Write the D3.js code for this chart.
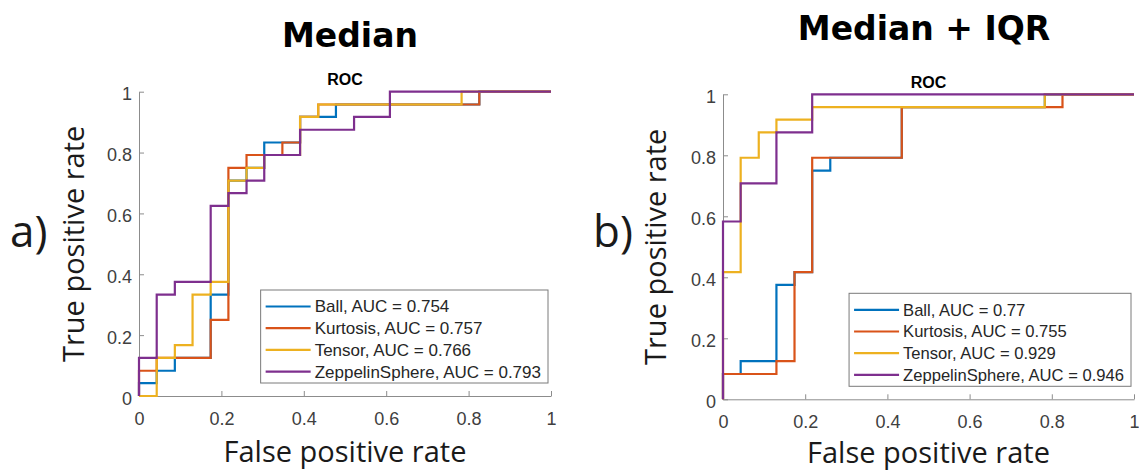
<!DOCTYPE html>
<html>
<head>
<meta charset="utf-8">
<script src="https://cdn.jsdelivr.net/npm/d3@7"></script>
<style>
  body { margin: 0; background: #fff; }
  svg { display: block; }
</style>
</head>
<body>
<svg id="chart" width="1139" height="472"></svg>
<script>
// series names and colours (MATLAB default order)
const seriesNames = ["Ball", "Kurtosis", "Tensor", "ZeppelinSphere"];
const seriesColors = ["#0072BD", "#D95319", "#EDB120", "#7E2F8E"];

// AUC values shown in the legends
const aucMedian = ["0.754", "0.757", "0.766", "0.793"];
const aucIqr = ["0.77", "0.755", "0.929", "0.946"];

const axisTicks = [0, 0.2, 0.4, 0.6, 0.8, 1];

// ROC corner points (fpr, tpr) - panel a) Median
const medianBallFpr = [0, 0.043, 0.087, 0.174, 0.217, 0.261, 0.304, 0.391, 0.478, 0.826, 1];
const medianBallTpr = [0, 0.042, 0.083, 0.125, 0.333, 0.708, 0.750, 0.833, 0.917, 0.958, 1];
const medianKurtFpr = [0, 0.043, 0.174, 0.217, 0.261, 0.348, 0.391, 0.435, 0.826, 1];
const medianKurtTpr = [0, 0.083, 0.125, 0.250, 0.750, 0.792, 0.833, 0.917, 0.958, 1];
const medianTensFpr = [0, 0.043, 0.087, 0.130, 0.174, 0.217, 0.261, 0.304, 0.391, 0.435, 0.783, 1];
const medianTensTpr = [0, 0, 0.125, 0.167, 0.333, 0.375, 0.708, 0.750, 0.792, 0.917, 0.958, 1];
const medianZeppFpr = [0, 0.043, 0.087, 0.174, 0.217, 0.261, 0.304, 0.391, 0.522, 0.609, 1];
const medianZeppTpr = [0, 0.125, 0.333, 0.375, 0.625, 0.667, 0.708, 0.792, 0.875, 0.917, 1];

// panel b) Median + IQR
const iqrBallFpr = [0, 0.043, 0.130, 0.174, 0.217, 0.261, 0.435, 0.783, 1];
const iqrBallTpr = [0, 0.083, 0.125, 0.375, 0.417, 0.750, 0.792, 0.958, 1];
const iqrKurtFpr = [0, 0.130, 0.174, 0.217, 0.435, 0.826, 1];
const iqrKurtTpr = [0, 0.083, 0.125, 0.417, 0.792, 0.958, 1];
const iqrTensFpr = [0, 0.043, 0.087, 0.130, 0.217, 0.783, 1];
const iqrTensTpr = [0, 0.417, 0.792, 0.875, 0.917, 0.958, 1];
const iqrZeppFpr = [0, 0.043, 0.130, 0.217, 1];
const iqrZeppTpr = [0, 0.583, 0.708, 0.875, 1];

const panels = [
  {
    title: "Median", letter: "a)", auc: aucMedian,
    curves: [[medianBallFpr, medianBallTpr], [medianKurtFpr, medianKurtTpr],
             [medianTensFpr, medianTensTpr], [medianZeppFpr, medianZeppTpr]],
    left: 139, right: 551, top: 91.7, bottom: 396,
    titleX: 350, titleY: 47, letterX: 10, ylabX: 84, xlabY: 462, legendFont: 17
  },
  {
    title: "Median + IQR", letter: "b)", auc: aucIqr,
    curves: [[iqrBallFpr, iqrBallTpr], [iqrKurtFpr, iqrKurtTpr],
             [iqrTensFpr, iqrTensTpr], [iqrZeppFpr, iqrZeppTpr]],
    left: 723, right: 1134, top: 94.3, bottom: 399.3,
    titleX: 924, titleY: 40, letterX: 593, ylabX: 666, xlabY: 463, legendFont: 16.6
  }
];

const labelFont = "'Open Sans', 'Noto Sans', sans-serif";
const tickFont = "'Liberation Sans', Arial, sans-serif";

const svg = d3.select("#chart");
panels.forEach(p => drawPanel(svg, p));

function drawPanel (svg, p) {
  const x = d3.scaleLinear().domain([0, 1]).range([p.left, p.right]);
  const y = d3.scaleLinear().domain([0, 1]).range([p.bottom, p.top]);
  const g = svg.append("g");

  // axes, ticks pointing inward like matlab
  const xAxis = g.append("g")
    .attr("transform", `translate(0,${p.bottom})`)
    .call(d3.axisBottom(x).tickValues(axisTicks).tickFormat(d3.format("~g"))
      .tickSizeInner(-5).tickSizeOuter(0).tickPadding(16));
  const yAxis = g.append("g")
    .attr("transform", `translate(${p.left},0)`)
    .call(d3.axisLeft(y).tickValues(axisTicks).tickFormat(d3.format("~g"))
      .tickSizeInner(-5).tickSizeOuter(0).tickPadding(7));

  [xAxis, yAxis].forEach(a => {
    a.select(".domain").attr("stroke", "#8c8c8c");
    a.selectAll(".tick line").attr("stroke", "#8c8c8c");
    a.selectAll(".tick text")
      .attr("fill", "#404040")
      .style("font-family", tickFont)
      .style("font-size", "18px");
  });
  yAxis.selectAll(".tick text").attr("dy", "0.45em");

  // roc curves
  const line = d3.line()
    .x(d => x(d[0]))
    .y(d => y(d[1]))
    .curve(d3.curveStepBefore);

  p.curves.forEach((c, i) => {
    g.append("path")
      .datum(d3.zip(c[0], c[1]))
      .attr("d", line)
      .attr("fill", "none")
      .attr("stroke", seriesColors[i])
      .attr("stroke-width", 2.2)
      .attr("stroke-linejoin", "miter");
  });

  // legend (southeast)
  const legend = g.append("g");
  const rowH = 21.7;
  const texts = legend.selectAll("text")
    .data(seriesNames)
    .enter().append("text")
      .attr("x", 54)
      .attr("y", (d, i) => 16.5 + i * rowH)
      .attr("dy", "0.35em")
      .attr("fill", "#262626")
      .style("font-family", tickFont)
      .style("font-size", p.legendFont + "px")
      .text((d, i) => `${d}, AUC = ${p.auc[i]}`);
  let maxW = 0;
  texts.each(function () { maxW = Math.max(maxW, this.getComputedTextLength()); });
  const boxW = 54 + maxW + 7;
  const boxH = 93;
  legend.selectAll("line")
    .data(seriesNames)
    .enter().append("line")
      .attr("x1", 5).attr("x2", 50)
      .attr("y1", (d, i) => 16.5 + i * rowH)
      .attr("y2", (d, i) => 16.5 + i * rowH)
      .attr("stroke", (d, i) => seriesColors[i])
      .attr("stroke-width", 2.2);
  legend.insert("rect", ":first-child")
    .attr("x", 0).attr("y", 0)
    .attr("width", boxW).attr("height", boxH)
    .attr("fill", "#fff")
    .attr("stroke", "#7a7a7a")
    .attr("stroke-width", 1);
  legend.attr("transform", `translate(${p.right - 3 - boxW},${p.bottom - 13 - boxH})`);

  // titles and labels
  const cx = (p.left + p.right) / 2;
  g.append("text")
    .attr("x", cx).attr("y", p.top - 6.5)
    .attr("text-anchor", "middle")
    .style("font-family", tickFont)
    .style("font-weight", "bold")
    .style("font-size", "16px")
    .text("ROC");

  g.append("text")
    .attr("x", p.titleX).attr("y", p.titleY)
    .attr("text-anchor", "middle")
    .style("font-family", "'DejaVu Sans', Verdana, sans-serif")
    .style("font-weight", "bold")
    .style("font-size", "33px")
    .text(p.title);

  g.append("text")
    .attr("x", cx).attr("y", p.xlabY)
    .attr("text-anchor", "middle")
    .attr("fill", "#1a1a1a")
    .style("font-family", labelFont)
    .style("font-size", "29px")
    .text("False positive rate");

  g.append("text")
    .attr("transform", `translate(${p.ylabX},${(p.top + p.bottom) / 2}) rotate(-90)`)
    .attr("text-anchor", "middle")
    .attr("fill", "#1a1a1a")
    .style("font-family", labelFont)
    .style("font-size", "29px")
    .text("True positive rate");

  g.append("text")
    .attr("x", p.letterX).attr("y", 247)
    .attr("fill", "#1a1a1a")
    .style("font-family", labelFont)
    .style("font-size", "44px")
    .text(p.letter);
}
</script>
</body>
</html>
